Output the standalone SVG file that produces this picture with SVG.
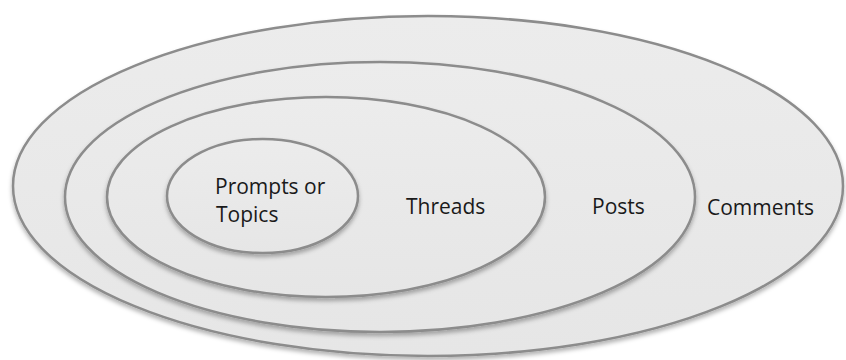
<svg xmlns="http://www.w3.org/2000/svg" width="846" height="360" viewBox="0 0 846 360">
<defs>
<linearGradient id="fillg" x1="0" y1="0" x2="0" y2="1">
<stop offset="0" stop-color="#ececec"/>
<stop offset="1" stop-color="#e6e6e6"/>
</linearGradient>
<filter id="sh" x="-10%" y="-10%" width="120%" height="130%">
<feDropShadow dx="0" dy="3" stdDeviation="2" flood-color="#000" flood-opacity="0.3"/>
</filter>
<style>
.ring{fill:url(#fillg);stroke:#8c8c8c;stroke-width:2.5;filter:url(#sh)}
.lbl{font-family:"Open Sans","Noto Sans","Liberation Sans",sans-serif;font-size:21px;fill:#1a1a1a}
</style>
</defs>
<rect width="846" height="360" fill="#ffffff"/>
<g id="comments">
<ellipse class="ring" cx="428" cy="186" rx="415" ry="170"/>
<text class="lbl" x="707" y="215">Comments</text>
</g>
<g id="posts">
<ellipse class="ring" cx="380" cy="197" rx="315" ry="135"/>
<text class="lbl" x="592" y="214">Posts</text>
</g>
<g id="threads">
<ellipse class="ring" cx="326" cy="197" rx="219" ry="100"/>
<text class="lbl" x="406" y="214">Threads</text>
</g>
<g id="prompts">
<ellipse class="ring" cx="262.5" cy="196" rx="95.5" ry="57"/>
<text class="lbl" x="215" y="194">Prompts or</text>
<text class="lbl" x="216" y="222">Topics</text>
</g>
<g id="connectors"/>
</svg>
